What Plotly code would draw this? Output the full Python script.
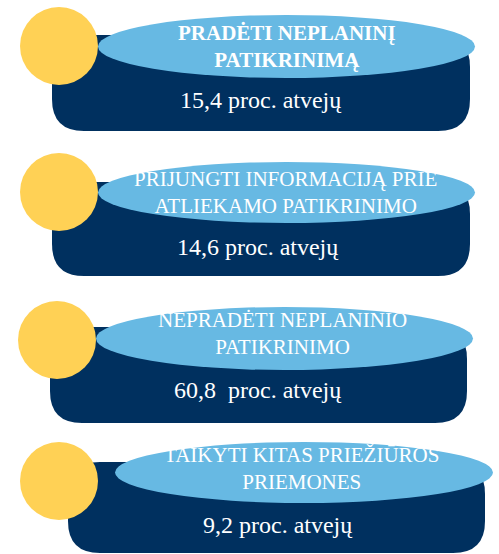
import plotly.graph_objects as go

# ---- data ----
titles = [
    "PRADĖTI NEPLANINĮ<br>PATIKRINIMĄ",
    "PRIJUNGTI INFORMACIJĄ PRIE<br>ATLIEKAMO PATIKRINIMO",
    "NEPRADĖTI NEPLANINIO<br>PATIKRINIMO",
    "TAIKYTI KITAS PRIEŽIŪROS<br>PRIEMONES",
]
title_bold = [True, False, False, False]
values = [15.4, 14.6, 60.8, 9.2]
value_sep = [" ", " ", "\u00a0 ", " "]
unit = "proc. atvejų"

# ---- layout (pixel coordinates of the 499x554 canvas) ----
W, H = 499, 554
rects = [(52, 35, 470, 131), (52, 182, 470, 276), (50, 327, 467, 423), (68, 462, 485, 553)]
ellipses = [(98, 15, 475, 78), (98, 162, 475, 223), (96, 307, 473, 370), (115, 442, 493, 503)]
circle_xy = [(59, 46), (59, 192), (57, 340), (59, 481)]
title_xy = [(287, 46.5), (285, 192), (282, 333.5), (301, 468)]
value_xy = [(261, 100), (258, 247), (258, 390), (278, 525)]

NAVY = "#00305F"
LIGHT = "#67B9E3"
YELLOW = "#FFD155"
FONT = "Liberation Serif"


def rounded_rect(x0, y0, x1, y1, r):
    return (f"M {x0+r},{y0} L {x1-r},{y0} Q {x1},{y0} {x1},{y0+r} "
            f"L {x1},{y1-r} Q {x1},{y1} {x1-r},{y1} "
            f"L {x0+r},{y1} Q {x0},{y1} {x0},{y1-r} "
            f"L {x0},{y0+r} Q {x0},{y0} {x0+r},{y0} Z")


fig = go.Figure()
shapes = []
for (rx0, ry0, rx1, ry1), (ex0, ey0, ex1, ey1) in zip(rects, ellipses):
    shapes.append(dict(type="path", path=rounded_rect(rx0, ry0, rx1, ry1, 32),
                       fillcolor=NAVY, line=dict(width=0), layer="below",
                       xref="x", yref="y"))
    shapes.append(dict(type="circle", x0=ex0, y0=ey0, x1=ex1, y1=ey1,
                       fillcolor=LIGHT, line=dict(width=0), layer="below",
                       xref="x", yref="y"))

fig.add_trace(go.Scatter(
    x=[c[0] for c in circle_xy], y=[c[1] for c in circle_xy],
    mode="markers", marker=dict(size=78, color=YELLOW, line=dict(width=0)),
    hoverinfo="skip", showlegend=False))

annotations = []
for t, b, (tx, ty) in zip(titles, title_bold, title_xy):
    txt = f"<b>{t}</b>" if b else t
    annotations.append(dict(x=tx, y=ty, text=txt, showarrow=False,
                            xref="x", yref="y", align="center",
                            font=dict(family=FONT, size=21, color="white")))
for v, s, (vx, vy) in zip(values, value_sep, value_xy):
    txt = f"{v:.1f}".replace(".", ",") + s + unit
    annotations.append(dict(x=vx, y=vy, text=txt, showarrow=False,
                            xref="x", yref="y",
                            font=dict(family=FONT, size=24, color="white")))

fig.update_layout(
    width=W, height=H, margin=dict(l=0, r=0, t=0, b=0),
    paper_bgcolor="white", plot_bgcolor="white",
    shapes=shapes, annotations=annotations, showlegend=False,
    xaxis=dict(range=[0, W], visible=False, fixedrange=True),
    yaxis=dict(range=[H, 0], visible=False, fixedrange=True),
)

fig.write_html("out.html", config={"displayModeBar": False},
               post_script="document.body.style.margin='0';document.body.style.overflow='hidden';")
